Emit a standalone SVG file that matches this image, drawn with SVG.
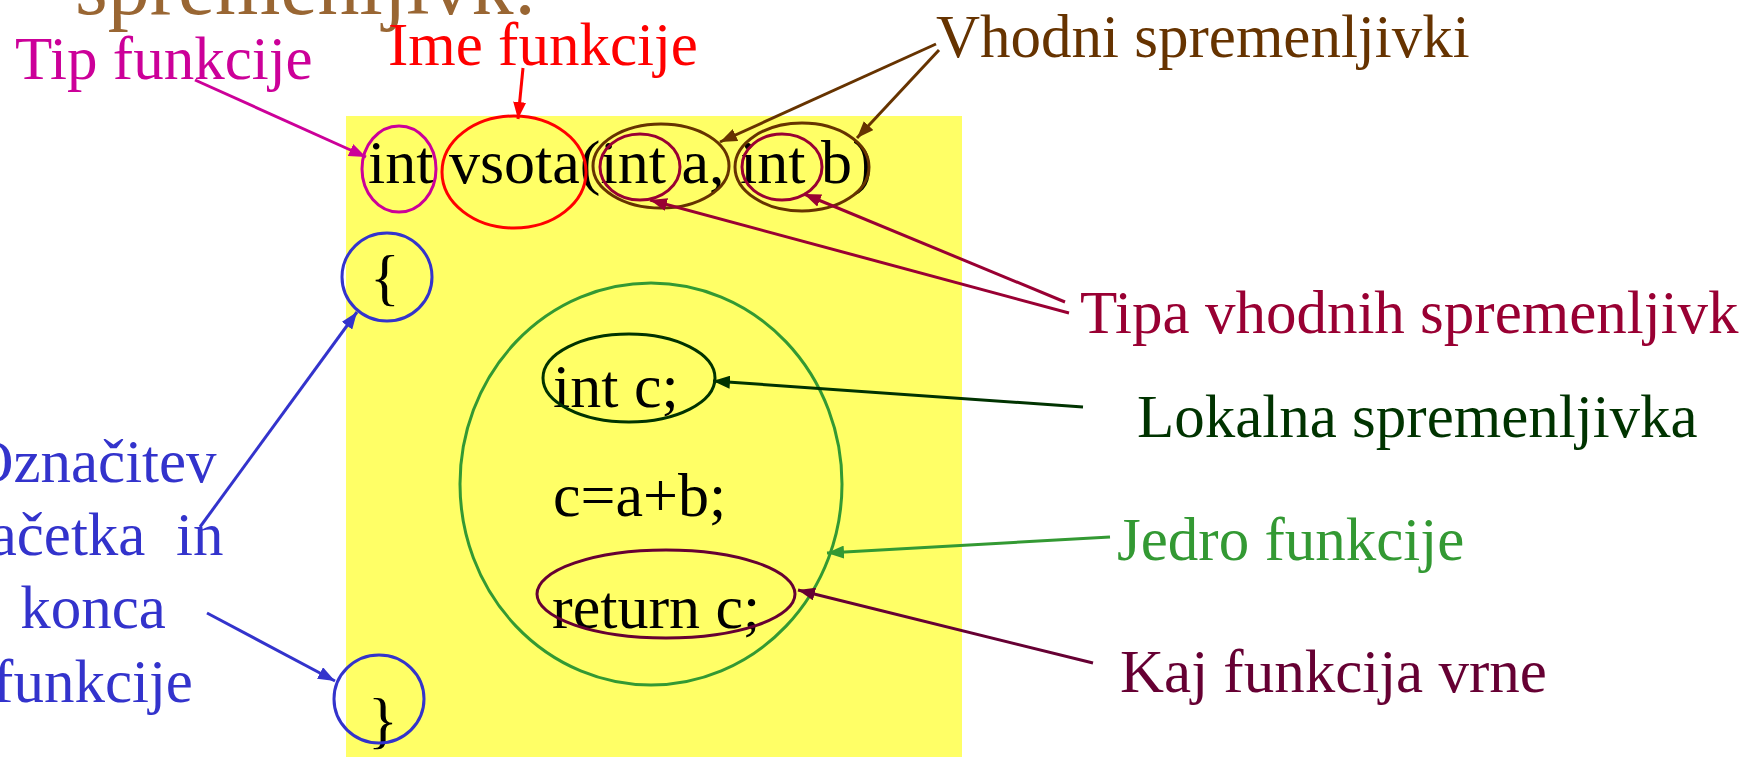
<svg xmlns="http://www.w3.org/2000/svg" width="1750" height="757" viewBox="0 0 1750 757">
<style>
text{font-family:"Liberation Serif","Times New Roman",serif;}
.lbl{font-size:61px;}
.code{font-size:62px;fill:#000;}
.ell{fill:none;stroke-width:3;}
.con{fill:none;stroke-width:3;}
</style>
<defs>
<marker id="mMag" markerUnits="userSpaceOnUse" markerWidth="17" markerHeight="13" viewBox="0 0 17 13" refX="17" refY="6.5" orient="auto"><path d="M0,0 L17,6.5 L0,13 z" fill="#CC0099"/></marker>
<marker id="mRed" markerUnits="userSpaceOnUse" markerWidth="17" markerHeight="13" viewBox="0 0 17 13" refX="17" refY="6.5" orient="auto"><path d="M0,0 L17,6.5 L0,13 z" fill="#FF0000"/></marker>
<marker id="mBrn" markerUnits="userSpaceOnUse" markerWidth="17" markerHeight="13" viewBox="0 0 17 13" refX="17" refY="6.5" orient="auto"><path d="M0,0 L17,6.5 L0,13 z" fill="#663300"/></marker>
<marker id="mCrm" markerUnits="userSpaceOnUse" markerWidth="17" markerHeight="13" viewBox="0 0 17 13" refX="17" refY="6.5" orient="auto"><path d="M0,0 L17,6.5 L0,13 z" fill="#990033"/></marker>
<marker id="mDg" markerUnits="userSpaceOnUse" markerWidth="17" markerHeight="13" viewBox="0 0 17 13" refX="17" refY="6.5" orient="auto"><path d="M0,0 L17,6.5 L0,13 z" fill="#003300"/></marker>
<marker id="mGr" markerUnits="userSpaceOnUse" markerWidth="17" markerHeight="13" viewBox="0 0 17 13" refX="17" refY="6.5" orient="auto"><path d="M0,0 L17,6.5 L0,13 z" fill="#339933"/></marker>
<marker id="mPu" markerUnits="userSpaceOnUse" markerWidth="17" markerHeight="13" viewBox="0 0 17 13" refX="17" refY="6.5" orient="auto"><path d="M0,0 L17,6.5 L0,13 z" fill="#660033"/></marker>
<marker id="mBl" markerUnits="userSpaceOnUse" markerWidth="17" markerHeight="13" viewBox="0 0 17 13" refX="17" refY="6.5" orient="auto"><path d="M0,0 L17,6.5 L0,13 z" fill="#3333CC"/></marker>
</defs>
<rect width="1750" height="757" fill="#FFFFFF"/>
<text id="title" x="75" y="14" font-size="84" fill="#996633">spremenljivk:</text>
<rect id="codebox" x="346" y="116" width="616" height="641" fill="#FFFF66"/>

<g id="code">
<text class="code" x="368" y="183">int vsota(int a, int b)</text>
<text class="code" x="370" y="298">{</text>
<text class="code" x="553" y="407">int c;</text>
<text class="code" x="553" y="516">c=a+b;</text>
<text class="code" x="552" y="628">return c;</text>
<text class="code" x="368" y="741">}</text>
</g>

<g id="n-tip-ellipse"><ellipse class="ell" cx="399" cy="169" rx="37" ry="43" stroke="#CC0099" stroke-width="3.5"/></g>
<g id="n-ime-ellipse"><ellipse class="ell" cx="514" cy="172" rx="72" ry="56" stroke="#FF0000" stroke-width="3.5"/></g>
<g id="n-vhod-a"><ellipse class="ell" cx="661" cy="166" rx="68" ry="42" stroke="#663300" stroke-width="3.5"/></g>
<g id="n-vhod-b"><ellipse class="ell" cx="802" cy="167" rx="67" ry="44" stroke="#663300" stroke-width="3.5"/></g>
<g id="n-tipa-a"><ellipse class="ell" cx="640" cy="167" rx="40" ry="33" stroke="#990033" stroke-width="3.5"/></g>
<g id="n-tipa-b"><ellipse class="ell" cx="782" cy="167" rx="40" ry="33" stroke="#990033" stroke-width="3.5"/></g>
<g id="n-open"><ellipse class="ell" cx="387" cy="277" rx="45" ry="44" stroke="#3333CC"/></g>
<g id="n-close"><ellipse class="ell" cx="379" cy="699" rx="45" ry="44" stroke="#3333CC"/></g>
<g id="n-jedro"><ellipse class="ell" cx="651" cy="484" rx="191" ry="201" stroke="#339933"/></g>
<g id="n-lokal"><ellipse class="ell" cx="629" cy="378" rx="86" ry="44" stroke="#003300"/></g>
<g id="n-return"><ellipse class="ell" cx="666" cy="594" rx="129" ry="44" stroke="#660033"/></g>

<g id="labels">
<text id="l-tip" class="lbl" x="15" y="79" fill="#CC0099">Tip funkcije</text>
<text id="l-ime" class="lbl" x="388" y="65" fill="#FF0000">Ime funkcije</text>
<text id="l-vhodni" class="lbl" x="936" y="57" fill="#663300">Vhodni spremenljivki</text>
<text id="l-tipa" class="lbl" x="1080" y="333" fill="#990033">Tipa vhodnih spremenljivk</text>
<text id="l-lokal" class="lbl" x="1137" y="437" fill="#003300">Lokalna spremenljivka</text>
<text id="l-jedro" class="lbl" x="1117" y="560" fill="#339933">Jedro funkcije</text>
<text id="l-kaj" class="lbl" x="1120" y="692" fill="#660033">Kaj funkcija vrne</text>
<text id="l-oznacitev" class="lbl" fill="#3333CC" text-anchor="middle" xml:space="preserve"><tspan x="93" y="482">Označitev</tspan><tspan x="93" y="555">začetka  in</tspan><tspan x="93" y="628">konca</tspan><tspan x="93" y="702">funkcije</tspan></text>
</g>

<g id="connectors" class="con">
<line x1="195" y1="80" x2="366" y2="157" stroke="#CC0099" stroke-width="3" marker-end="url(#mMag)"/>
<line x1="523" y1="68" x2="518" y2="119" stroke="#FF0000" stroke-width="3" marker-end="url(#mRed)"/>
<line x1="936" y1="44" x2="720" y2="142" stroke="#663300" stroke-width="3" marker-end="url(#mBrn)"/>
<line x1="939" y1="50" x2="857" y2="138" stroke="#663300" stroke-width="3" marker-end="url(#mBrn)"/>
<line x1="1069" y1="313" x2="650" y2="200" stroke="#990033" stroke-width="3" marker-end="url(#mCrm)"/>
<line x1="1065" y1="302" x2="804" y2="194" stroke="#990033" stroke-width="3" marker-end="url(#mCrm)"/>
<line x1="1083" y1="407" x2="713" y2="381" stroke="#003300" stroke-width="3" marker-end="url(#mDg)"/>
<line x1="1110" y1="537" x2="827" y2="553" stroke="#339933" stroke-width="3" marker-end="url(#mGr)"/>
<line x1="1093" y1="663" x2="798" y2="590" stroke="#660033" stroke-width="3" marker-end="url(#mPu)"/>
<line x1="200" y1="527" x2="357" y2="312" stroke="#3333CC" stroke-width="3" marker-end="url(#mBl)"/>
<line x1="207" y1="613" x2="335" y2="681" stroke="#3333CC" stroke-width="3" marker-end="url(#mBl)"/>
</g>
</svg>
